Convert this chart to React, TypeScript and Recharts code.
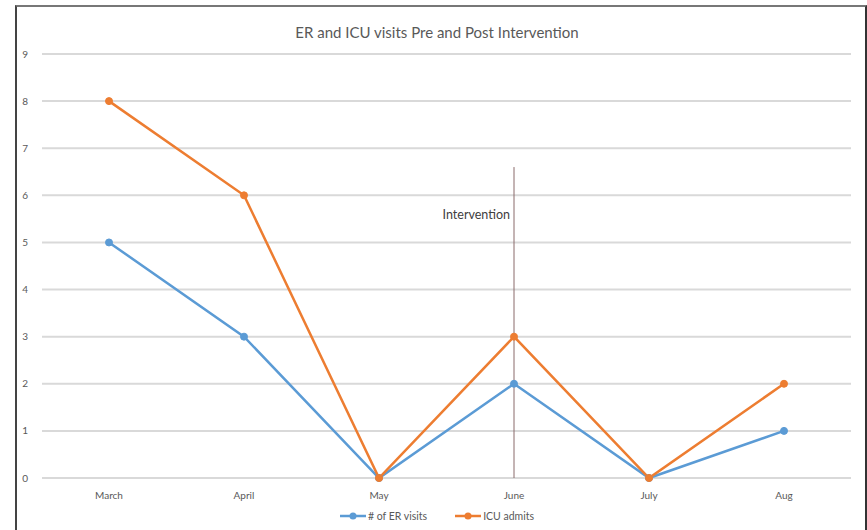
import { CartesianGrid, Legend, Line, LineChart, ReferenceDot, ReferenceLine, XAxis, YAxis } from 'recharts';

const months = ['March', 'April', 'May', 'June', 'July', 'Aug'];
const erVisits = [5, 3, 0, 2, 0, 1];
const icuAdmits = [8, 6, 0, 3, 0, 2];
const yTicks = [0, 1, 2, 3, 4, 5, 6, 7, 8, 9];

const interventionMonth = 'June';
const interventionTop = 6.6;
const interventionLabelY = 5.6;

const FONT = 'Lato, "Open Sans", sans-serif';
const BLUE = '#5b9bd5';
const ORANGE = '#ed7d31';

const data = months.map((m, i) => ({ month: m, er: erVisits[i], icu: icuAdmits[i] }));

function LegendContent({ payload }: any) {
  return (
    <div style={{ display: 'flex', justifyContent: 'center', gap: 28, fontFamily: FONT, fontSize: 10.5, color: '#595959' }}>
      {(payload || []).map((p: any) => (
        <div key={p.value} style={{ display: 'flex', alignItems: 'center' }}>
          <svg width={26} height={10} style={{ marginRight: 2 }}>
            <line x1={0} y1={5} x2={26} y2={5} stroke={p.color} strokeWidth={2.5} />
            <circle cx={13} cy={5} r={3.5} fill={p.color} />
          </svg>
          <span>{p.value}</span>
        </div>
      ))}
    </div>
  );
}

export default function App() {
  return (
    <div style={{ position: 'absolute', left: 0, top: 0, width: 867, height: 530, background: '#fff', overflow: 'hidden' }}>
      <div
        style={{
          position: 'absolute',
          left: 15,
          top: 5,
          width: 848,
          height: 540,
          borderTop: '2px solid #777',
          borderLeft: '2px solid #444',
          borderRight: '2px solid #333',
        }}
      />
      <div
        style={{
          position: 'absolute',
          left: 0,
          top: 23,
          width: 874,
          textAlign: 'center',
          fontFamily: FONT,
          fontSize: 15,
          color: '#595959',
        }}
      >
        ER and ICU visits Pre and Post Intervention
      </div>
      <div style={{ position: 'absolute', left: 0, top: 0 }}>
        <LineChart width={867} height={530} data={data} margin={{ top: 54, right: 16, bottom: 22, left: 16 }}>
          <CartesianGrid vertical={false} stroke="#d9d9d9" strokeWidth={2} />
          <XAxis
            dataKey="month"
            padding={{ left: 67, right: 67 }}
            axisLine={false}
            tickLine={false}
            tickMargin={8}
            tick={{ fontSize: 10, fill: '#595959', fontFamily: FONT }}
          />
          <YAxis
            domain={[0, 9]}
            ticks={yTicks}
            width={26}
            axisLine={false}
            tickLine={false}
            tickMargin={8}
            tick={{ fontSize: 10, fill: '#595959', fontFamily: FONT }}
          />
          <Legend
            layout="horizontal"
            verticalAlign="middle"
            align="center"
            content={<LegendContent />}
            wrapperStyle={{ top: 510, left: 0, width: 874 }}
          />
          <ReferenceLine
            segment={[
              { x: interventionMonth, y: 0 },
              { x: interventionMonth, y: interventionTop },
            ]}
            stroke="#8a6a6a"
            strokeWidth={1}
          />
          <ReferenceDot
            x={interventionMonth}
            y={interventionLabelY}
            r={0}
            stroke="none"
            fill="none"
            label={{ value: 'Intervention', position: 'left', offset: 4, fontSize: 12.5, fill: '#404040', fontFamily: FONT }}
          />
          <Line
            dataKey="er"
            name="# of ER visits"
            stroke={BLUE}
            strokeWidth={2.5}
            dot={{ r: 3.5, fill: BLUE, stroke: BLUE, strokeWidth: 1 }}
            isAnimationActive={false}
          />
          <Line
            dataKey="icu"
            name="ICU admits"
            stroke={ORANGE}
            strokeWidth={2.5}
            dot={{ r: 3.5, fill: ORANGE, stroke: ORANGE, strokeWidth: 1 }}
            isAnimationActive={false}
          />
        </LineChart>
      </div>
    </div>
  );
}
